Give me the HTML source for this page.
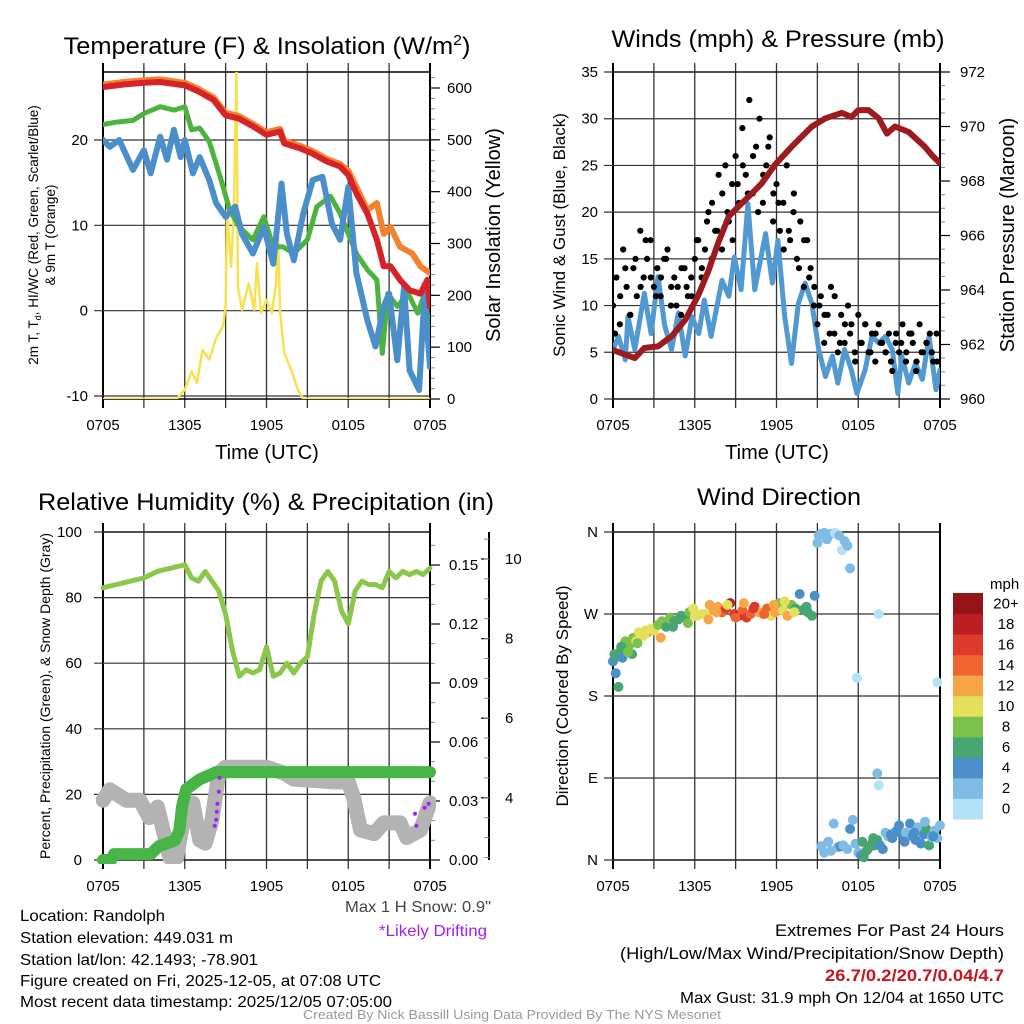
<!DOCTYPE html>
<html><head><meta charset="utf-8"><style>
html,body{margin:0;padding:0;background:#fff;}
svg{display:block;font-family:"Liberation Sans",sans-serif;}
</style></head><body>
<svg id="root" width="1024" height="1024" viewBox="0 0 1024 1024" xmlns="http://www.w3.org/2000/svg">
<defs>
<clipPath id="c1"><rect x="103" y="72" width="327" height="327"/></clipPath>
<clipPath id="c2"><rect x="613" y="72" width="327" height="327"/></clipPath>
<clipPath id="c3"><rect x="96" y="532" width="340" height="332"/></clipPath>
<clipPath id="c4"><rect x="605" y="524" width="342" height="344"/></clipPath>
</defs>
<g id="g1"></g>
<g id="g2"></g>
<g id="g3"></g>
<g id="g4"></g>
<g id="txt">
<text x="267" y="54" font-size="24" text-anchor="middle" textLength="407" lengthAdjust="spacingAndGlyphs">Temperature (F) &amp; Insolation (W/m<tspan dy="-9" font-size="15">2</tspan><tspan dy="9">)</tspan></text>
<text x="778" y="47" font-size="24" text-anchor="middle" textLength="333" lengthAdjust="spacingAndGlyphs">Winds (mph) &amp; Pressure (mb)</text>
<text x="266" y="510" font-size="24" text-anchor="middle" textLength="456" lengthAdjust="spacingAndGlyphs">Relative Humidity (%) &amp; Precipitation (in)</text>
<text x="779" y="505" font-size="24" text-anchor="middle" textLength="164" lengthAdjust="spacingAndGlyphs">Wind Direction</text>
<text x="267" y="459" font-size="20" text-anchor="middle">Time (UTC)</text>
<text x="777" y="459" font-size="20" text-anchor="middle">Time (UTC)</text>
<text transform="translate(38,235) rotate(-90)" font-size="13.5" text-anchor="middle">2m T, T<tspan font-size="9" dy="3">d</tspan><tspan dy="-3">, HI/WC (Red, Green, Scarlet/Blue)</tspan></text>
<text transform="translate(55,235) rotate(-90)" font-size="13.5" text-anchor="middle">&amp; 9m T (Orange)</text>
<text transform="translate(500,235) rotate(-90)" font-size="20" text-anchor="middle">Solar Insolation (Yellow)</text>
<text transform="translate(565,235) rotate(-90)" font-size="17" text-anchor="middle">Sonic Wind &amp; Gust (Blue, Black)</text>
<text transform="translate(1014,235) rotate(-90)" font-size="20" text-anchor="middle">Station Pressure (Maroon)</text>
<text transform="translate(50,696) rotate(-90)" font-size="14" text-anchor="middle">Percent, Precipitation (Green), &amp; Snow Depth (Gray)</text>
<text transform="translate(568,696) rotate(-90)" font-size="17" text-anchor="middle">Direction (Colored By Speed)</text>
<text x="20" y="921" font-size="16" textLength="145" lengthAdjust="spacingAndGlyphs">Location: Randolph</text>
<text x="20" y="943" font-size="16" textLength="213" lengthAdjust="spacingAndGlyphs">Station elevation: 449.031 m</text>
<text x="20" y="965" font-size="16" textLength="238" lengthAdjust="spacingAndGlyphs">Station lat/lon: 42.1493; -78.901</text>
<text x="20" y="986" font-size="16" textLength="361" lengthAdjust="spacingAndGlyphs">Figure created on Fri, 2025-12-05, at 07:08 UTC</text>
<text x="20" y="1007" font-size="16" textLength="372" lengthAdjust="spacingAndGlyphs">Most recent data timestamp: 2025/12/05 07:05:00</text>
<text x="345" y="912" font-size="16" fill="#444" textLength="146" lengthAdjust="spacingAndGlyphs">Max 1 H Snow: 0.9"</text>
<text x="379" y="936" font-size="16" fill="#a020f0" textLength="108" lengthAdjust="spacingAndGlyphs">*Likely Drifting</text>
<text x="1004" y="936" font-size="17" text-anchor="end" textLength="229" lengthAdjust="spacingAndGlyphs">Extremes For Past 24 Hours</text>
<text x="1004" y="959" font-size="17" text-anchor="end" textLength="384" lengthAdjust="spacingAndGlyphs">(High/Low/Max Wind/Precipitation/Snow Depth)</text>
<text x="1004" y="981" font-size="17" font-weight="bold" fill="#c8141e" text-anchor="end" textLength="179" lengthAdjust="spacingAndGlyphs">26.7/0.2/20.7/0.04/4.7</text>
<text x="1004" y="1003" font-size="16" text-anchor="end" textLength="324" lengthAdjust="spacingAndGlyphs">Max Gust: 31.9 mph On 12/04 at 1650 UTC</text>
<text x="512" y="1019" font-size="13" fill="#999" text-anchor="middle" textLength="418" lengthAdjust="spacingAndGlyphs">Created By Nick Bassill Using Data Provided By The NYS Mesonet</text>
</g>
</svg>
<script>
// ---------- data ----------
const xTickLabels = ["0705","","1305","","1905","","0105","","0705"];
const tempTickLabels = ["-10","0","10","20"];
const tempTicks = [-10,0,10,20];
const solarTicks = [0,100,200,300,400,500,600];
const windTicks = [0,5,10,15,20,25,30,35];
const presTicks = [960,962,964,966,968,970,972];
const rhTicks = [0,20,40,60,80,100];
const precTicks = [0,0.03,0.06,0.09,0.12,0.15];
const precTickLabels = ["0.00","0.03","0.06","0.09","0.12","0.15"];
const snowTicks = [4,6,8,10];
const dirTicks = [0,90,180,270,360];
const dirTickLabels = ["N","E","S","W","N"];

const orangeT = [0,1.5,3,4.2,6,7,8.1,9,10,11,12,13,13.3,14.5,15.4,16.4,17.4,18,18.6,19.4,20.1,20.6,21.1,21.8,22.7,23.3,24];
const orangeV = [26.5,26.8,27,27.1,26.7,26,25,23.2,22.8,21.9,20.9,21.3,19.9,19.3,18.7,17.8,17.2,16.4,14.5,11.8,12.6,9,9.8,7.5,6.7,5.2,4.4];
const redT = [0,1.5,3,4.2,6,7,8.1,9,10,11,12,13,13.3,14.5,15.4,16.4,17.4,18,18.6,19.4,20.1,20.6,21.1,21.8,22.5,23.3,23.8,24];
const redV = [26.2,26.5,26.7,26.8,26.4,25.7,24.7,22.9,22.5,21.6,20.6,21,19.6,19,18.4,17.5,16.9,15.9,13.75,11.4,8.3,5.2,5.2,3.6,2.4,2,3.6,0.5];
const greenT = [0,1,2.2,3,4.2,5.2,6,6.5,7.1,7.8,8.6,9.3,10,11,11.8,12.5,13.2,14,15,15.7,16.7,17.4,18,18.6,19.4,20.1,20.5,20.9,21.6,22.4,23.1,23.6,24];
const greenV = [21.8,22.1,22.3,23.1,23.9,23.5,23.9,21.2,21.4,19.8,15.7,11.8,9.8,8.3,11,7.5,7.5,6.7,8.3,12.2,13.4,11.4,9,6.7,4.8,3.6,-5,2,0.5,2,-0.3,2,-2.7];
const blueT = [0,0.5,1.2,2.2,3,3.5,4.2,4.7,5.2,5.7,6,6.6,7.1,7.8,8.3,9,9.7,10.2,11,11.8,12.5,13.1,13.5,14,14.7,15.4,16.1,16.8,17.4,18,18.6,19.4,20,20.6,21,21.6,22.1,22.5,23.2,23.6,24];
const blueV = [20,19.2,20,16.5,18.8,16.1,20.4,17.7,21.2,18,20,16.1,18,15.3,12.6,11,12.2,9,6.7,9.8,5.5,14.9,9,5.9,11.4,15.3,15.7,10.2,8.3,14.5,4.4,-1.1,-4.2,0.5,2,-5.8,2.8,-7,-9.3,2,-6.6];
const solarT = [0,5.4,6,6.5,6.9,7.3,7.8,8.3,8.8,9,9.1,9.4,9.6,9.8,9.9,10.2,10.7,11.1,11.3,11.6,12,12.4,12.7,12.85,13,13.3,13.8,14.3,14.7,24];
const solarV = [0,0,18,53,31,95,76,117,140,178,365,255,358,631,217,172,223,172,262,166,191,166,223,313,166,89,57,18,0,0];

const presT = [0,1.6,2.3,3.3,4.3,5.3,6.25,7,7.7,8.5,9.2,9.9,10.9,11.9,13.1,14.6,15.6,16.8,17.5,18,18.75,19.5,20.1,20.7,21.7,22.9,23.4,24];
const presV = [961.8,961.5,961.87,961.93,962.3,962.9,963.8,964.7,965.7,966.7,967.06,967.4,967.9,968.6,969.25,970,970.3,970.5,970.35,970.6,970.6,970.3,969.74,970,969.8,969.25,968.95,968.65];
const windT = [0,0.4,0.9,1.1,1.6,2.3,2.8,3.3,3.8,4.3,4.8,5.3,5.8,6.3,6.7,7.2,8,8.5,8.9,9.4,9.9,10.4,11.2,11.7,12.1,12.6,13.1,13.6,14.1,14.6,15.1,15.6,16.1,16.5,17,17.5,17.9,18.5,19,19.5,20,20.5,20.9,21.2,21.7,22.2,22.7,23.2,23.7,24];
const windV = [5.3,6.7,4.2,8.8,5.3,11.3,7,13.1,7.8,5.3,9.2,4.6,8.8,7,10.6,6.7,12.7,11,15.2,11.7,20.9,11.7,17.7,12.4,17,8.8,3.8,10.2,12.4,10.2,5.3,2.4,4.6,1.7,5.3,3.1,0.6,3.1,6.7,6,6.7,5.3,0.6,4.6,1.7,3.8,2.1,6.7,1,3.1];
const gustV = [10,13,8,16,12,9,14,11,18,13,15,17,
               12,14,11,15,16,10,13,12,9,14,11,13,
               15,17,13,16,20,15,18,24,16,25,19,23,
               26,21,29,24,32,22,27,30,21,25,28,19,
               23,18,21,25,17,20,15,19,12,17,14,10,
               8,11,6,9,12,7,5,9,6,10,8,5,
               9,6,8,5,7,4,8,6,5,7,3,6,
               5,8,4,7,6,3,8,5,6,7,4,7];
const gust2V = [7,11,14,9,15,12,17,13,
                11,13,15,12,10,14,12,11,
                17,14,19,21,18,22,20,17,
                23,25,22,26,20,24,27,22,
                21,16,18,22,14,17,13,12,
                10,9,7,11,6,8,7,4,
                6,8,5,7,6,5,4,7,
                6,5,7,4,5,6,5,4];

const rhV = [83,83.5,84,84.5,85,85.5,86,87,88,88.5,89,89.5,90,86,85,88,85,82,75,64,56,58,57,58,65,56,57,60,57,60,62,75,85,88,85,76,72,82,85,84,84,83,88,86,88,87,88,87,89];
const precT = [0,0.6,0.8,3.5,4.1,5.3,5.6,5.8,6.1,7.1,8.3,24];
const precV = [0,0,0.003,0.003,0.007,0.01,0.015,0.027,0.036,0.041,0.0447,0.0447];
const snowT = [0,0.5,1.7,2.7,3.4,4,4.9,5.4,5.9,6.6,7.1,7.5,8,8.5,9,12,13.3,14,17,18,18.4,18.9,19.9,20.6,21.8,22.3,23.3,24];
const snowV = [3.94,4.2,3.94,3.94,3.5,3.77,2.5,2.5,3.44,3.87,2.94,2.86,3.44,4.62,4.77,4.77,4.62,4.47,4.4,4.4,4.0,3.19,3.1,3.37,3.37,3.0,3.19,3.87];
const driftT = [8.2,8.3,8.35,8.4,8.5,8.55,22.9,23.0,23.6,23.9];
const driftV = [3.3,3.45,3.65,3.85,4.15,4.5,3.6,3.3,3.75,3.85];

const dirT = [0,0.1,0.2,0.3,0.4,0.5,0.7,0.9,1.0,1.2,1.4,1.5,1.7,1.9,2.0,2.2,2.4,2.6,2.8,3.0,3.3,3.6,3.9,4.2,4.5,4.8,5.0,5.3,5.6,5.9,6.2,6.5,6.8,7.1,7.4,7.7,8.0,8.3,8.6,8.9,9.2,9.5,9.8,10.1,10.4,10.7,11.0,11.3,11.6,11.9,12.2,12.5,12.8,13.1,13.4,13.7,14.0,14.3,14.6,14.8,
  15.0,15.1,15.3,15.5,15.7,16.0,16.3,16.6,16.8,17.0,17.2,17.4,
  15.3,15.5,15.8,16.0,16.2,16.5,16.7,16.9,17.2,17.4,17.6,17.8,18.0,18.2,18.4,18.6,18.8,19.0,19.2,19.4,19.6,19.8,20.0,20.2,20.5,20.8,21.0,21.2,21.5,21.8,22.0,22.2,22.4,22.6,22.8,23.0,23.2,23.4,23.6,23.8,24.0,
  17.9,19.5,19.4,19.5,23.8,
  0.6,1.1,1.8,2.3,3.5,4.4,5.5,6.0,7.0,7.6,8.4,9.0,9.6,10.3,11.1,11.8,12.6,13.3,14.2,
  18.3,18.7,19.1,20.4,21.4,22.1,22.9,23.5];
const dirV = [218,226,205,223,190,228,222,240,232,236,226,244,240,250,246,246,252,250,254,252,258,262,256,266,262,264,268,266,272,276,268,270,270,280,274,278,272,276,282,270,268,274,266,270,278,272,270,276,268,272,282,274,268,280,276,292,275,272,268,290,
  348,356,358,359,352,358,359,356,340,350,345,320,
  15,8,20,10,40,14,15,16,12,34,44,18,8,5,3,10,14,18,16,22,16,12,30,26,24,32,38,28,30,40,26,22,36,18,28,34,16,25,32,24,38,
  200,270,95,82,195,
  234,228,238,248,244,256,260,268,264,272,280,266,282,276,270,280,284,272,278,
  20,12,24,28,20,30,42,26];
const dirS = [5,6,4,7,6,6,5,8,7,9,6,9,10,11,10,10,11,12,10,10,9,8,7,8,7,6,6,7,9,11,10,10,11,12,13,12,14,16,18,17,19,15,16,14,17,13,12,15,11,12,8,10,12,9,7,5,6,7,6,4,
  3,3,2,3,2,3,1,2,1,3,2,3,
  2,3,3,2,2,3,4,3,2,4,2,3,3,4,6,6,7,6,7,6,5,4,2,3,4,4,5,4,3,4,4,4,3,4,5,6,7,3,2,3,3,
  1,1,3,1,1,
  7,9,8,11,12,7,8,10,12,13,11,15,12,16,15,13,11,10,7,
  7,6,7,5,4,4,3,5];
const speedColors = ["#b3e2f7","#7fbbe5","#4a8fc7","#48a673","#7cc14b","#e5e05c","#f6a547","#ee6431","#dc3a2b","#bb1d25","#931519"];
const speedLabels = ["0","2","4","6","8","10","12","14","16","18","20+"];

// ---------- helpers ----------
const NS = "http://www.w3.org/2000/svg";
function mk(parent, tag, attrs, name){
  const el = document.createElementNS(NS, tag);
  for (const k in attrs) el.setAttribute(k, attrs[k]);
  
  
  parent.appendChild(el);
  return el;
}
function linScale(d0,d1,r0,r1){ return v => r0 + (v-d0)*(r1-r0)/(d1-d0); }
function pathD(ts, vs, xs, ys){ return ts.map((t,i)=>(i?"L":"M")+xs(t).toFixed(1)+","+ys(vs[i]).toFixed(1)).join(""); }

function frame(g, x0, y0, w, h, pre){
  const xs = linScale(0,24,x0,x0+w);
  for (let i=0;i<=8;i++){
    const x = xs(i*3);
    mk(g,'line',{x1:x,y1:y0-9,x2:x,y2:y0+h+9,stroke:(i==0||i==8)?'#000':'#333','stroke-width':(i==0||i==8)?2:1.3}, pre+'-vgrid');
    if (xTickLabels[i]) { const t = mk(g,'text',{x:x,y:y0+h+31,'font-size':15,'text-anchor':'middle'}, pre+'-x-tick-label'); t.textContent = xTickLabels[i]; }
  }
  mk(g,'line',{x1:x0,y1:y0,x2:x0+w,y2:y0,stroke:'#000','stroke-width':1.5}, pre+'-top-border');
  mk(g,'line',{x1:x0,y1:y0+h,x2:x0+w,y2:y0+h,stroke:'#000','stroke-width':1.5}, pre+'-bottom-border');
  return xs;
}
function hgrid(g, x0, w, ys, ticks, labels, lx, pre, anchor){
  ticks.forEach((v,i)=>{
    const y = ys(v);
    mk(g,'line',{x1:x0-9,y1:y,x2:x0+w,y2:y,stroke:'#333','stroke-width':1.2}, pre+'-hgrid');
    const t = mk(g,'text',{x:lx,y:y+5,'font-size':15,'text-anchor':anchor||'end'}, pre+'-y-tick-label');
    t.textContent = labels ? labels[i] : String(v);
  });
}
function rightAxis(g, x, ys, ticks, labels, lx, pre, minorStep, lo, hi){
  for (let v=lo; v<=hi+1e-9; v+=minorStep){
    mk(g,'line',{x1:x,y1:ys(v),x2:x+5,y2:ys(v),stroke:'#888','stroke-width':1}, pre+'-minor-tick');
  }
  ticks.forEach((v,i)=>{
    const y = ys(v);
    mk(g,'line',{x1:x,y1:y,x2:x+10,y2:y,stroke:'#000','stroke-width':1.2}, pre+'-major-tick');
    const t = mk(g,'text',{x:lx,y:y+5,'font-size':15}, pre+'-right-tick-label');
    t.textContent = labels ? labels[i] : String(v);
  });
}

// ---------- panel 1 ----------
(function(){
  const g = document.getElementById('g1');
  const xs = frame(g,103,72,327,327,'temp');
  const ys = linScale(-10,20,396,140);
  const yr = linScale(0,600,399,88);
  hgrid(g,103,327,ys,tempTicks,tempTickLabels,88,'temp');
  rightAxis(g,430,yr,solarTicks,null,447,'solar',20,0,620);
  mk(g,'line',{x1:430,y1:72,x2:430,y2:399,stroke:'#000','stroke-width':2}, 'temp-right-border');
  const c = mk(g,'g',{'clip-path':'url(#c1)'}, 'temp-series');
  mk(c,'path',{d:pathD(solarT,solarV,xs,yr),fill:'none',stroke:'#f9e04f','stroke-width':2.5,'stroke-linejoin':'round'}, 'solar-line');
  mk(c,'path',{d:pathD(orangeT,orangeV,xs,ys),fill:'none',stroke:'#f3822e','stroke-width':6,'stroke-linejoin':'round','stroke-linecap':'round'}, 'temp9m-line');
  mk(c,'path',{d:pathD(greenT,greenV,xs,ys),fill:'none',stroke:'#4db33f','stroke-width':5,'stroke-linejoin':'round','stroke-linecap':'round'}, 'dewpoint-line');
  mk(c,'path',{d:pathD(blueT,blueV,xs,ys),fill:'none',stroke:'#4b8fca','stroke-width':6,'stroke-linejoin':'round','stroke-linecap':'round'}, 'windchill-line');
  mk(c,'path',{d:pathD(redT,redV,xs,ys),fill:'none',stroke:'#d72227','stroke-width':6,'stroke-linejoin':'round','stroke-linecap':'round'}, 'temp2m-line');
})();

// ---------- panel 2 ----------
(function(){
  const g = document.getElementById('g2');
  const xs = frame(g,613,72,327,327,'wind');
  const ys = linScale(0,35,399,72);
  const yr = linScale(960,972,399,72);
  hgrid(g,613,327,ys,windTicks,null,598,'wind');
  rightAxis(g,940,yr,presTicks,null,960,'pres',0.5,960,972);
  mk(g,'line',{x1:940,y1:72,x2:940,y2:399,stroke:'#000','stroke-width':2}, 'wind-right-border');
  const c = mk(g,'g',{'clip-path':'url(#c2)'}, 'wind-series');
  mk(c,'path',{d:pathD(windT,windV,xs,ys),fill:'none',stroke:'#5199d2','stroke-width':5,'stroke-linejoin':'round','stroke-linecap':'round'}, 'sonic-wind-line');
  gustV.forEach((v,i)=>{
    mk(c,'circle',{cx:xs(i*0.25).toFixed(1),cy:ys(v).toFixed(1),r:3.1,fill:'#000'}, 'gust-point');
  });
  gust2V.forEach((v,i)=>{
    mk(c,'circle',{cx:xs(i*0.375+0.15).toFixed(1),cy:ys(v).toFixed(1),r:3.1,fill:'#000'}, 'gust-point');
  });
  mk(c,'path',{d:pathD(presT,presV,xs,yr),fill:'none',stroke:'#9b1b1e','stroke-width':6,'stroke-linejoin':'round','stroke-linecap':'round'}, 'pressure-line');
})();

// ---------- panel 3 ----------
(function(){
  const g = document.getElementById('g3');
  const xs = frame(g,103,532,327,328,'rh');
  const ys = linScale(0,100,860,532);
  const yp = linScale(0,0.15,860,565);
  const ysn = linScale(0,10,957,559);
  hgrid(g,103,327,ys,rhTicks,null,82,'rh');
  rightAxis(g,430,yp,precTicks,precTickLabels,449,'precip',0.01,0,0.16);
  mk(g,'line',{x1:430,y1:532,x2:430,y2:860,stroke:'#000','stroke-width':2}, 'rh-right-border');
  mk(g,'line',{x1:489,y1:532,x2:489,y2:860,stroke:'#000','stroke-width':2}, 'snow-axis-line');
  snowTicks.forEach(v=>{
    mk(g,'line',{x1:481,y1:ysn(v),x2:489,y2:ysn(v),stroke:'#000','stroke-width':1.2}, 'snow-major-tick');
    const t = mk(g,'text',{x:505,y:ysn(v)+5,'font-size':15}, 'snow-tick-label');
    t.textContent = String(v);
  });
  for (let v=2.5; v<=10.7; v+=0.5){ mk(g,'line',{x1:484,y1:ysn(v),x2:489,y2:ysn(v),stroke:'#888','stroke-width':1}, 'snow-minor-tick'); }
  const c = mk(g,'g',{'clip-path':'url(#c3)'}, 'rh-series');
  mk(c,'path',{d:pathD(snowT,snowV,xs,ysn),fill:'none',stroke:'#b3b3b3','stroke-width':15,'stroke-linejoin':'round','stroke-linecap':'round'}, 'snow-depth-line');
  const rhT = rhV.map((v,i)=>i*0.5);
  mk(c,'path',{d:pathD(rhT,rhV,xs,ys),fill:'none',stroke:'#8bc74a','stroke-width':5,'stroke-linejoin':'round','stroke-linecap':'round'}, 'humidity-line');
  mk(c,'path',{d:pathD(precT,precV,xs,yp),fill:'none',stroke:'#47b446','stroke-width':12,'stroke-linejoin':'round','stroke-linecap':'round'}, 'precip-line');
  driftT.forEach((t,i)=>{
    mk(c,'circle',{cx:xs(t).toFixed(1),cy:ysn(driftV[i]).toFixed(1),r:2,fill:'#a020f0'}, 'drift-point');
  });
})();

// ---------- panel 4 ----------
(function(){
  const g = document.getElementById('g4');
  const xs = frame(g,613,532,327,328,'dir');
  const ys = linScale(0,360,860,532);
  hgrid(g,613,327,ys,dirTicks,dirTickLabels,598,'dir');
  mk(g,'line',{x1:940,y1:532,x2:940,y2:860,stroke:'#000','stroke-width':2}, 'dir-right-border');
  const c = mk(g,'g',{'clip-path':'url(#c4)'}, 'dir-series');
  dirT.forEach((t,i)=>{
    const idx = Math.min(10, Math.floor(dirS[i]/2));
    mk(c,'circle',{cx:xs(t).toFixed(1),cy:ys(dirV[i]).toFixed(1),r:5,fill:speedColors[idx]}, 'direction-point');
  });
  const cb = mk(g,'g',{}, 'speed-colorbar');
  const t0 = mk(cb,'text',{x:990,y:589,'font-size':15}, 'colorbar-title');
  t0.textContent = 'mph';
  const boxH = 226/11;
  for (let k=0;k<11;k++){
    const y = 593 + (10-k)*boxH;
    mk(cb,'rect',{x:953,y:y.toFixed(1),width:30,height:(boxH+0.5).toFixed(1),fill:speedColors[k]}, 'colorbar-box');
    const t = mk(cb,'text',{x:1006,y:(y+boxH/2+5).toFixed(1),'font-size':15,'text-anchor':'middle'}, 'colorbar-label');
    t.textContent = speedLabels[k];
  }
})();
</script>
</body></html>
